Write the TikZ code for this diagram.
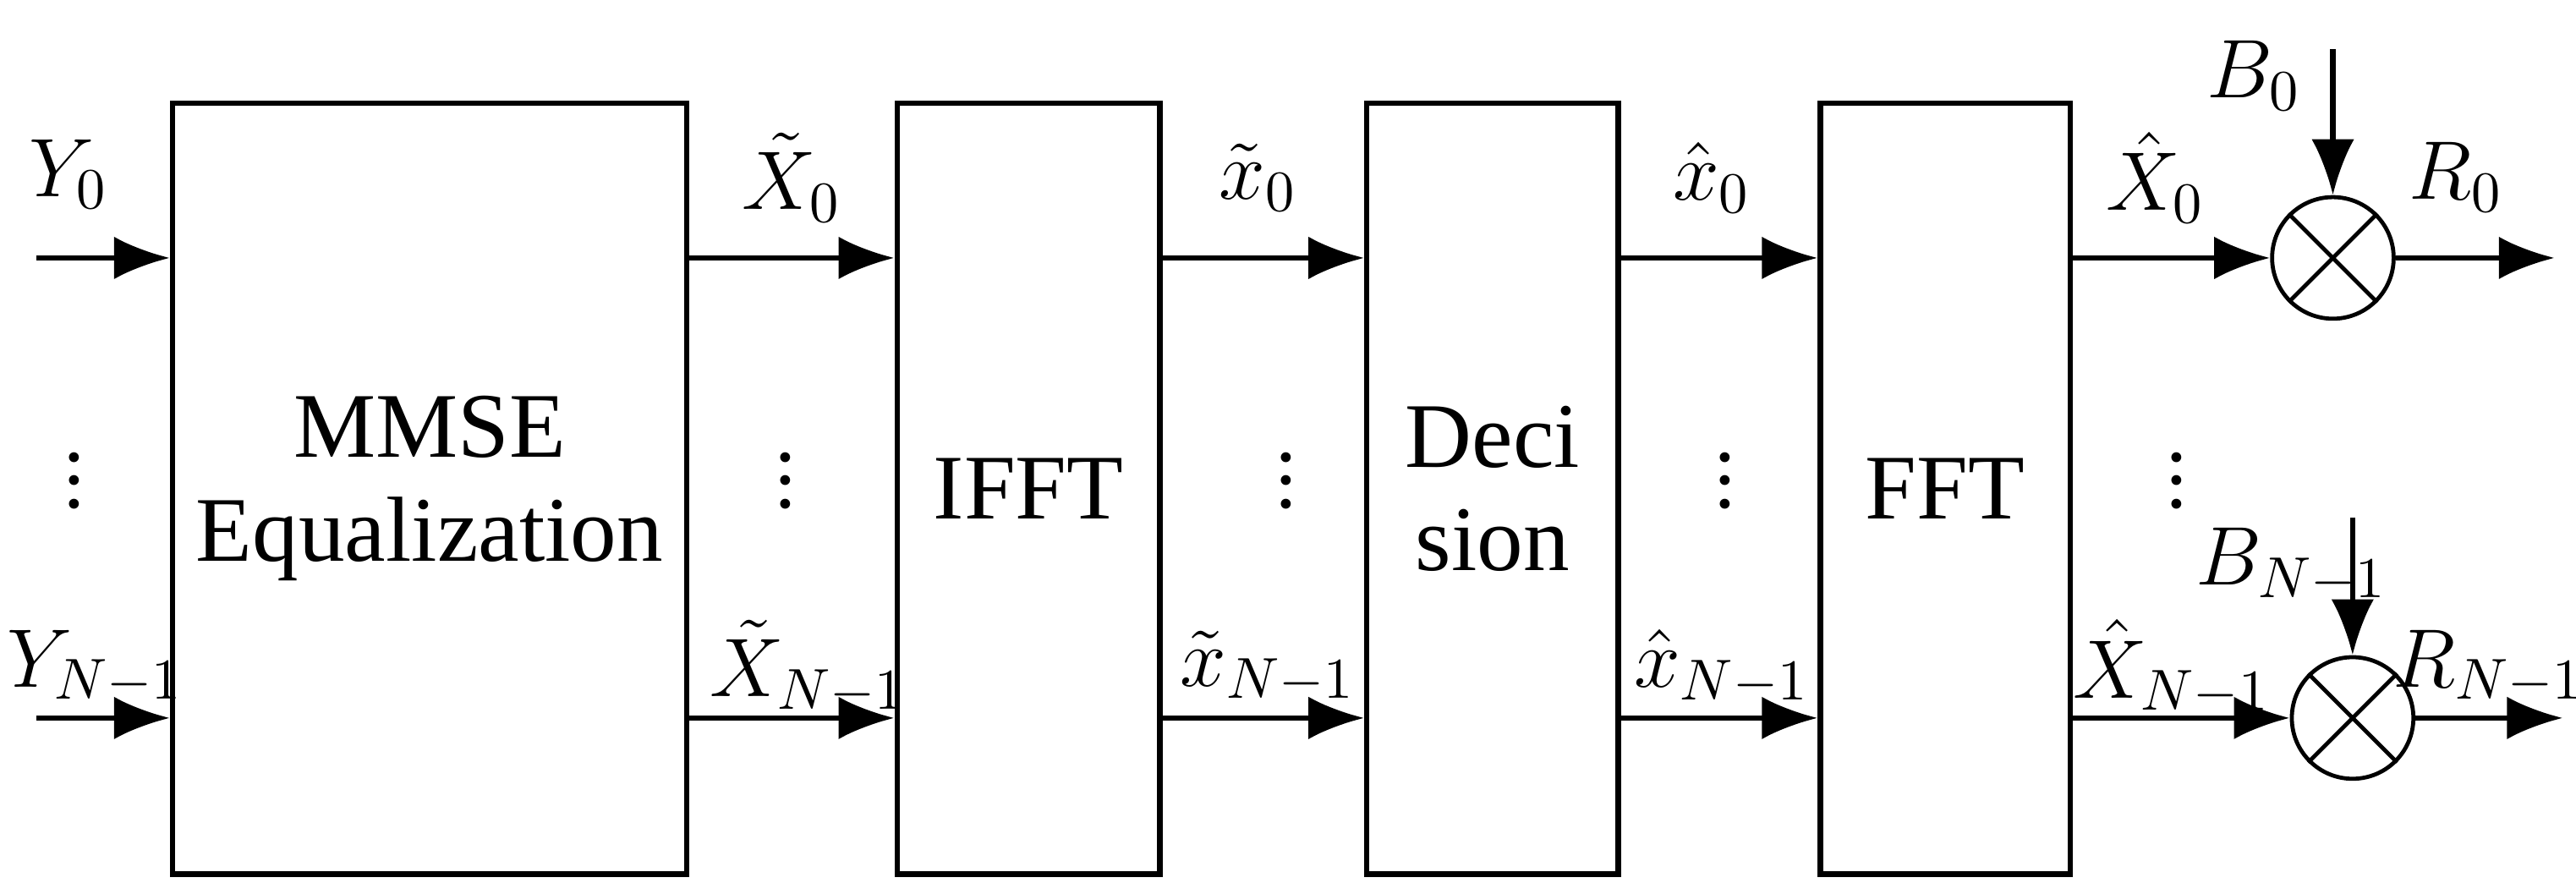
\documentclass[tikz,border=0pt]{standalone}
\usepackage{fontspec}
\setmainfont{Liberation Serif}
\usetikzlibrary{arrows.meta}

\tikzset{
  blk/.style={draw, line width=0.9pt, align=center, inner sep=0pt, font=\fontsize{16}{18}\selectfont},
  arr/.style={line width=0.9pt, -{Latex[length=0.34cm, width=0.26cm]}},
  mult/.style={draw, circle, line width=0.7pt, minimum size=0.74cm, inner sep=0pt},
  lbl/.style={inner sep=0pt, font=\fontsize{14.5}{16}\selectfont}
}

\begin{document}
\begin{tikzpicture}
\useasboundingbox (0,0) rectangle (15.68,5.44);

\coordinate (top) at (0, 3.87);
\coordinate (bot) at (0, 1.07);

\node[blk, minimum width=3.13cm, minimum height=4.69cm] (mmse) at (2.615, 2.465) {MMSE\\Equalization};
\node[blk, minimum width=1.60cm, minimum height=4.69cm] (ifft) at (6.26, 2.465) {IFFT};
\node[blk, minimum width=1.53cm, minimum height=4.69cm] (dec) at (9.085, 2.465) {Deci\\sion};
\node[blk, minimum width=1.52cm, minimum height=4.69cm] (fft) at (11.84, 2.465) {FFT};

\node[mult] (mul a) at (14.20, 3.87) {}; \draw[line width=0.7pt] (mul a.north west) -- (mul a.south east); \draw[line width=0.7pt] (mul a.north east) -- (mul a.south west);
\node[mult] (mul b) at (14.32, 1.07) {}; \draw[line width=0.7pt] (mul b.north west) -- (mul b.south east); \draw[line width=0.7pt] (mul b.north east) -- (mul b.south west);

\coordinate (in a) at (0.22, 3.87);
\coordinate (in b) at (0.22, 1.07);
\coordinate (out a) at (15.55, 3.87);
\coordinate (out b) at (15.60, 1.07);
\coordinate (b a) at (14.20, 5.14);
\coordinate (b b) at (14.32, 2.29);

% top row
\draw[arr] (in a) -- (mmse.west |- top);
\draw[arr] (mmse.east |- top) -- (ifft.west |- top);
\draw[arr] (ifft.east |- top) -- (dec.west |- top);
\draw[arr] (dec.east |- top) -- (fft.west |- top);
\draw[arr] (fft.east |- top) -- (mul a);
\draw[arr] (mul a) -- (out a);
\draw[arr] (b a) -- (mul a);

% bottom row
\draw[arr] (in b) -- (mmse.west |- bot);
\draw[arr] (mmse.east |- bot) -- (ifft.west |- bot);
\draw[arr] (ifft.east |- bot) -- (dec.west |- bot);
\draw[arr] (dec.east |- bot) -- (fft.west |- bot);
\draw[arr] (fft.east |- bot) -- (mul b);
\draw[arr] (mul b) -- (out b);
\draw[arr] (b b) -- (mul b);

% labels
\node[lbl] (y a) at (0.42, 4.38) {$Y_0$};
\node[lbl] (x a) at (4.82, 4.36) {$\tilde{X}_0$};
\node[lbl] (t a) at (7.66, 4.36) {$\tilde{x}_0$};
\node[lbl] (h a) at (10.42, 4.36) {$\hat{x}_0$};
\node[lbl] (z a) at (13.12, 4.36) {$\hat{X}_0$};
\node[lbl] (r a) at (14.95, 4.36) {$R_0$};
\node[lbl] (bl a) at (13.72, 4.98) {$B_0$};

\node[lbl] (y b) at (0.58, 1.38) {$Y_{N-1}$};
\node[lbl] (x b) at (4.92, 1.38) {$\tilde{X}_{N-1}$};
\node[lbl] (t b) at (7.72, 1.38) {$\tilde{x}_{N-1}$};
\node[lbl] (h b) at (10.48, 1.38) {$\hat{x}_{N-1}$};
\node[lbl] (z b) at (13.22, 1.38) {$\hat{X}_{N-1}$};
\node[lbl] (r b) at (15.15, 1.38) {$R_{N-1}$};
\node[lbl] (bl b) at (13.95, 2.00) {$B_{N-1}$};

\foreach \x/\n in {0.45/a, 4.78/b, 7.83/c, 10.50/d, 13.25/e}
  \node[lbl] (dots \n) at (\x, 2.62) {$\vdots$};

\end{tikzpicture}
\end{document}
